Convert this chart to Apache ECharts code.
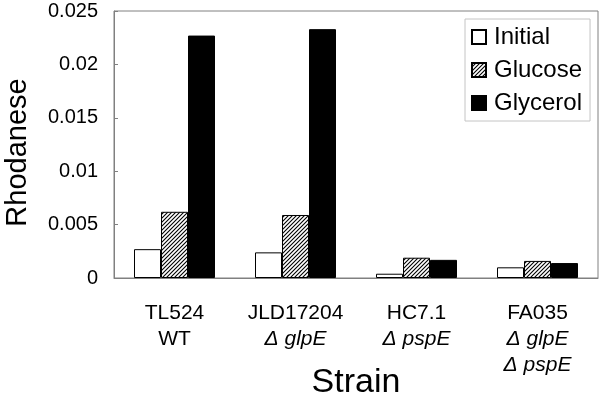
<!DOCTYPE html>
<html>
<head>
<meta charset="utf-8">
<script src="https://cdn.jsdelivr.net/npm/echarts@6/dist/echarts.min.js"></script>
<style>
  html, body { margin: 0; padding: 0; background: #fff; }
  #chart { width: 600px; height: 396px; }
</style>
</head>
<body>
<div id="chart"></div>
<script>
// 数据
const strains = ['TL524', 'JLD17204', 'HC7.1', 'FA035']
const genotypes = ['WT', 'Δ glpE', 'Δ pspE', 'Δ glpE\nΔ pspE']
const initial = [0.0027, 0.0024, 0.0004, 0.001]
const glucose = [0.0062, 0.0059, 0.0019, 0.0016]
const glycerol = [0.0227, 0.0233, 0.0017, 0.0014]
const yTicks = [0, 0.005, 0.01, 0.015, 0.02, 0.025]

const font = 'Liberation Sans, Arial, sans-serif'

// 斜线填充
const makeHatch = () => {
  const s = 4
  const c = document.createElement('canvas')
  c.width = s
  c.height = s
  const ctx = c.getContext('2d')
  ctx.fillStyle = '#fff'
  ctx.fillRect(0, 0, s, s)
  ctx.strokeStyle = '#000'
  ctx.lineWidth = 1.1
  ctx.beginPath()
  ctx.moveTo(0, s); ctx.lineTo(s, 0)
  ctx.moveTo(-1, 1); ctx.lineTo(1, -1)
  ctx.moveTo(s - 1, s + 1); ctx.lineTo(s + 1, s - 1)
  ctx.stroke()
  return c
}

// x轴标签
const labelFor = (name) => {
  const i = strains.indexOf(name)
  const g = genotypes[i]
  const style = g === 'WT' ? 'n' : 'i'
  return ['{n|' + name + '}'].concat(g.split('\n').map(s => '{' + style + '|' + s + '}')).join('\n')
}

const chart = echarts.init(document.getElementById('chart'))
chart.setOption({
  animation: false,
  textStyle: { fontFamily: font, color: '#000' },
  grid: {
    left: 114, right: 2, top: 11, bottom: 118,
    outerBoundsMode: 'none',
    containLabel: false,
    show: true, borderColor: '#808080', borderWidth: 1
  },
  legend: {
    orient: 'vertical',
    left: 465, top: 19,
    padding: [6, 8, 6, 6],
    itemGap: 9,
    itemWidth: 14, itemHeight: 14,
    borderColor: '#c4c4c4', borderWidth: 1,
    backgroundColor: '#fff',
    icon: 'rect',
    textStyle: { fontFamily: font, fontSize: 24, color: '#000', padding: [0, 0, 0, 3] },
    data: ['Initial', 'Glucose', 'Glycerol']
  },
  xAxis: {
    type: 'category',
    data: strains,
    name: 'Strain',
    nameLocation: 'middle',
    nameGap: 88,
    nameMoveOverlap: false,
    nameTextStyle: { fontFamily: font, fontSize: 34, color: '#000' },
    axisLine: { lineStyle: { color: '#808080', width: 1 } },
    axisTick: { show: false },
    axisLabel: {
      margin: 22,
      formatter: labelFor,
      rich: {
        n: { fontFamily: font, fontSize: 21, lineHeight: 26, color: '#000' },
        i: { fontFamily: font, fontSize: 21, lineHeight: 26, fontStyle: 'italic', color: '#000' }
      }
    }
  },
  yAxis: {
    type: 'value',
    min: yTicks[0],
    max: yTicks[yTicks.length - 1],
    interval: yTicks[1] - yTicks[0],
    name: 'Rhodanese',
    nameLocation: 'middle',
    nameGap: 82,
    nameMoveOverlap: false,
    nameTextStyle: { fontFamily: font, fontSize: 29, color: '#000', padding: [0, 16, 0, 0] },
    axisLine: { show: true, lineStyle: { color: '#808080', width: 1 } },
    axisTick: { show: true, inside: true, length: 4, lineStyle: { color: '#808080' } },
    splitLine: { show: false },
    axisLabel: {
      margin: 16,
      fontSize: 20,
      color: '#000',
      formatter: v => String(parseFloat(v.toFixed(3)))
    }
  },
  series: [
    {
      name: 'Initial', type: 'bar', data: initial,
      barWidth: 27, barGap: '0%',
      itemStyle: { color: '#fff', borderColor: '#000', borderWidth: 1 }
    },
    {
      name: 'Glucose', type: 'bar', data: glucose,
      barWidth: 27, barGap: '0%',
      itemStyle: { color: { image: makeHatch(), repeat: 'repeat' }, borderColor: '#000', borderWidth: 1 }
    },
    {
      name: 'Glycerol', type: 'bar', data: glycerol,
      barWidth: 27, barGap: '0%',
      itemStyle: { color: '#000', borderColor: '#000', borderWidth: 1 }
    }
  ]
})
</script>
</body>
</html>
